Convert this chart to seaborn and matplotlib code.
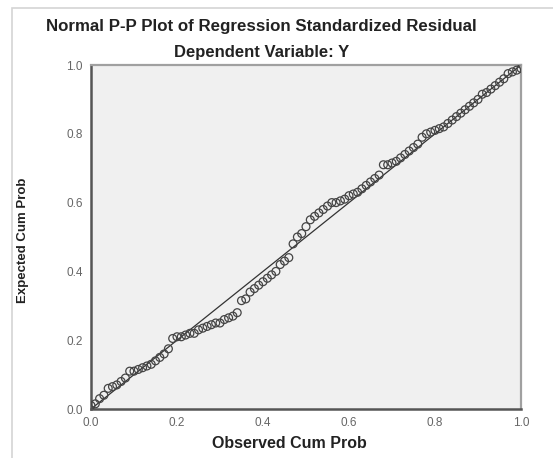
import numpy as np
import pandas as pd
import matplotlib
matplotlib.use("Agg")
import matplotlib.pyplot as plt
from matplotlib.patches import Rectangle
import seaborn as sns

# observed vs expected cumulative probabilities
observed = [0.00, 0.01, 0.02, 0.03, 0.04, 0.05, 0.06, 0.07, 0.08, 0.09,
            0.10, 0.11, 0.12, 0.13, 0.14, 0.15, 0.16, 0.17, 0.18, 0.19,
            0.20, 0.21, 0.22, 0.23, 0.24, 0.25, 0.26, 0.27, 0.28, 0.29,
            0.30, 0.31, 0.32, 0.33, 0.34, 0.35, 0.36, 0.37, 0.38, 0.39,
            0.40, 0.41, 0.42, 0.43, 0.44, 0.45, 0.46, 0.47, 0.48, 0.49,
            0.50, 0.51, 0.52, 0.53, 0.54, 0.55, 0.56, 0.57, 0.58, 0.59,
            0.60, 0.61, 0.62, 0.63, 0.64, 0.65, 0.66, 0.67, 0.68, 0.69,
            0.70, 0.71, 0.72, 0.73, 0.74, 0.75, 0.76, 0.77, 0.78, 0.79,
            0.80, 0.81, 0.82, 0.83, 0.84, 0.85, 0.86, 0.87, 0.88, 0.89,
            0.90, 0.91, 0.92, 0.93, 0.94, 0.95, 0.96, 0.97, 0.98, 0.99, 1.00]
expected = [0.010, 0.015, 0.030, 0.040, 0.060, 0.065, 0.070, 0.080, 0.090, 0.110,
            0.110, 0.115, 0.120, 0.125, 0.130, 0.140, 0.150, 0.160, 0.175, 0.205,
            0.210, 0.210, 0.215, 0.220, 0.220, 0.230, 0.235, 0.240, 0.245, 0.250,
            0.250, 0.260, 0.265, 0.270, 0.280, 0.315, 0.320, 0.340, 0.350, 0.360,
            0.370, 0.380, 0.390, 0.400, 0.420, 0.430, 0.440, 0.480, 0.500, 0.510,
            0.530, 0.550, 0.560, 0.570, 0.580, 0.590, 0.600, 0.600, 0.605, 0.610,
            0.620, 0.625, 0.630, 0.640, 0.650, 0.660, 0.670, 0.680, 0.710, 0.710,
            0.715, 0.720, 0.730, 0.740, 0.750, 0.760, 0.770, 0.790, 0.800, 0.805,
            0.810, 0.815, 0.820, 0.830, 0.840, 0.850, 0.860, 0.870, 0.880, 0.890,
            0.900, 0.915, 0.920, 0.930, 0.940, 0.950, 0.960, 0.975, 0.980, 0.985, 0.990]
ticks = [0.0, 0.2, 0.4, 0.6, 0.8, 1.0]
tick_labels = ["0.0", "0.2", "0.4", "0.6", "0.8", "1.0"]

df = pd.DataFrame({"observed": observed, "expected": expected})

sns.set_style("white")
plt.rcParams["font.family"] = ["Liberation Sans", "DejaVu Sans"]

fig = plt.figure(figsize=(5.53, 4.58), dpi=100)
fig.patch.set_facecolor("white")

# outer light frame
fig.add_artist(Rectangle((12 / 553, -0.1), 1.2, (458 - 8) / 458 + 0.1,
                         transform=fig.transFigure, fill=False,
                         edgecolor="#d4d4d4", linewidth=1.2))

ax = fig.add_axes([91 / 553, 49 / 458, 430 / 553, 344 / 458])
ax.set_facecolor("#f0f0f0")

ax.plot([0, 1], [0, 1], color="#333333", linewidth=0.9, zorder=2)
sns.scatterplot(data=df, x="observed", y="expected", ax=ax,
                marker="o", s=32, facecolor="none", edgecolor="#444444",
                linewidth=0.9, zorder=3)

ax.set_xlim(0, 1)
ax.set_ylim(0, 1)
ax.set_xticks(ticks)
ax.set_xticklabels(tick_labels)
ax.set_yticks(ticks)
ax.set_yticklabels(tick_labels)
ax.tick_params(axis="both", direction="out", length=4, width=1,
               color="#555555", labelsize=8.5, labelcolor="#666666", pad=2)

for side in ["left", "bottom"]:
    ax.spines[side].set_color("#555555")
    ax.spines[side].set_linewidth(1.8)
for side in ["top", "right"]:
    ax.spines[side].set_color("#a0a0a0")
    ax.spines[side].set_linewidth(1.6)

ax.set_xlabel("")
ax.set_ylabel("")
fig.text(289 / 553, 1 - 443 / 458, "Observed Cum Prob", ha="center", va="center",
         fontsize=11.5, fontweight="bold", color="#222222")
fig.text(23 / 553, 1 - 240 / 458, "Expected Cum Prob", ha="center", va="center",
         rotation=90, fontsize=9.5, fontweight="bold", color="#222222")

fig.text(261 / 553, 1 - 27 / 458, "Normal P-P Plot of Regression Standardized Residual",
         ha="center", va="center", fontsize=12.2, fontweight="bold", color="#222222")
fig.text(262 / 553, 1 - 53 / 458, "Dependent Variable: Y",
         ha="center", va="center", fontsize=12, fontweight="bold", color="#222222")

fig.savefig("out.png", dpi=100)
